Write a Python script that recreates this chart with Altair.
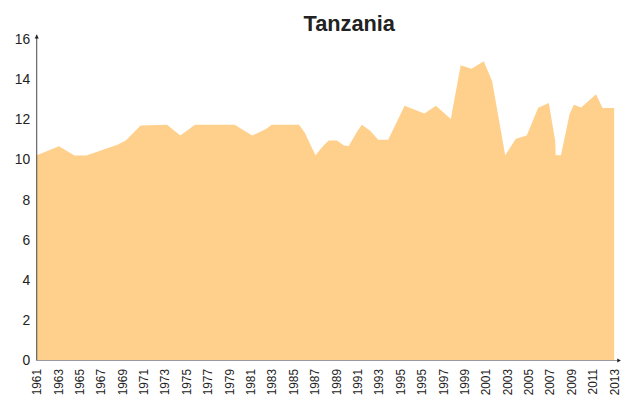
import altair as alt
import pandas as pd

# Data (x position in years, value)
years = [1961.0, 1963.0, 1964.4, 1965.46, 1968.27, 1969.02, 1970.36, 1972.73, 1973.93,
         1975.26, 1978.83, 1980.4, 1981.65, 1982.16, 1984.62, 1985.12, 1986.1, 1986.85,
         1987.3, 1988.04, 1988.64, 1989.08, 1989.82, 1990.27, 1991.01, 1991.76, 1992.65,
         1994.13, 1995.91, 1996.95, 1998.29, 1999.18, 2000.16, 2001.26, 2002.01, 2003.19,
         2004.15, 2005.13, 2006.16, 2007.12, 2007.7, 2007.73, 2008.21, 2008.99, 2009.37,
         2010.03, 2011.37, 2011.96, 2013.0]
values = [10.23, 10.69, 10.22, 10.22, 10.76, 10.97, 11.72, 11.76, 11.22,
          11.76, 11.76, 11.22, 11.55, 11.76, 11.76, 11.38, 10.23, 10.73,
          10.97, 10.97, 10.73, 10.68, 11.38, 11.76, 11.47, 11.01, 11.01,
          12.70, 12.32, 12.70, 12.05, 14.73, 14.55, 14.93, 13.94, 10.23,
          11.06, 11.22, 12.61, 12.84, 10.92, 10.23, 10.23, 12.29, 12.75,
          12.62, 13.28, 12.59, 12.59]

tick_labels = ["1961", "1963", "1965", "1967", "1969", "1971", "1973", "1975", "1977",
               "1979", "1981", "1983", "1985", "1987", "1989", "1991", "1993", "1995",
               "1995", "1997", "1999", "2001", "2003", "2005", "2007", "2009", "2011",
               "2013"]
y_ticks = [0, 2, 4, 6, 8, 10, 12, 14, 16]

df = pd.DataFrame({"year": years, "value": values})

x0, x1 = 1961, 2013
n = len(tick_labels) - 1
tick_pos = [x0 + k * (x1 - x0) / n for k in range(n + 1)]
label_arr = "[" + ",".join("'" + t + "'" for t in tick_labels) + "]"
label_expr = f"{label_arr}[round((datum.value - {x0}) * {n} / {x1 - x0})]"

W, H = 583, 330
FONT = "Liberation Sans"

area = alt.Chart(df).mark_area(color="#FFD08C", opacity=1, interpolate="linear").encode(
    x=alt.X("year:Q", scale=alt.Scale(domain=[x0, x1], nice=False, zero=False),
            axis=alt.Axis(values=tick_pos, labelExpr=label_expr, title=None, grid=False,
                          domain=False, ticks=False, labelAngle=270, labelAlign="right",
                          labelBaseline="middle", labelPadding=8, labelFontSize=12,
                          labelFont=FONT, labelColor="#222", labelOverlap=False,
                          labelFlush=False)),
    y=alt.Y("value:Q", scale=alt.Scale(domain=[0, 16.3], nice=False),
            axis=alt.Axis(values=y_ticks, title=None, grid=False, domain=False, ticks=False,
                          labelPadding=7, labelFontSize=14, labelFont=FONT,
                          labelColor="#222")),
)

one = pd.DataFrame({"a": [0]})
y_line = alt.Chart(one).mark_rule(color="#444", strokeWidth=1).encode(
    x=alt.value(0), y=alt.value(1), y2=alt.value(H))
x_line = alt.Chart(one).mark_rule(color="#9a96a0", strokeWidth=1).encode(
    x=alt.value(0), x2=alt.value(W + 4), y=alt.value(H))
y_arrow = alt.Chart(one).mark_point(shape="triangle-up", filled=True, color="#222",
                                    size=18, opacity=1).encode(
    x=alt.value(0), y=alt.value(3))
x_arrow = alt.Chart(one).mark_point(shape="triangle-right", filled=True, color="#222",
                                    size=18, opacity=1).encode(
    x=alt.value(W + 5), y=alt.value(H))

chart = alt.layer(area, x_line, y_line, y_arrow, x_arrow).properties(
    width=W, height=H,
    title=alt.TitleParams("Tanzania", font=FONT, fontSize=22, fontWeight="bold",
                          color="#222", anchor="middle", dx=24, offset=-3),
    autosize=alt.AutoSizeParams(type="none"),
    padding={"left": 29, "top": 24, "right": 14, "bottom": 40},
).configure_view(stroke=None)

chart.save("out.html", embed_options={"renderer": "svg", "actions": False})
